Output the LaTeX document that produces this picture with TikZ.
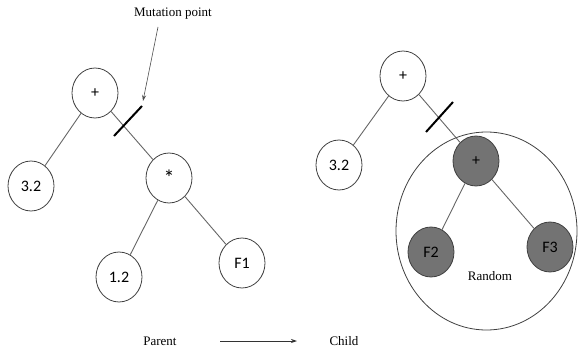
\documentclass[tikz,border=0pt]{standalone}
\usepackage{fontspec}
\setmainfont{Liberation Serif}
\newfontfamily\nodefont{Carlito}
\usetikzlibrary{shapes.geometric,arrows.meta}
\begin{document}
\begin{tikzpicture}[x=1pt,y=-1pt,
  tnode/.style={ellipse,draw=black!75,line width=0.8pt,inner sep=0pt,minimum width=46pt,minimum height=50pt,font=\nodefont\fontsize{16}{18}\selectfont},
  gnode/.style={tnode,fill=black!55},
  link/.style={draw=black!60,line width=0.9pt},
  cut/.style={draw=black,line width=2pt},
  lbl/.style={font=\fontsize{13}{15}\selectfont,inner sep=0pt}]
\useasboundingbox (0,0) rectangle (578,348);
% left tree
\node[tnode] (lp) at (95,93) {+};
\node[tnode] (l32) at (31,186) {3.2};
\node[tnode] (lm) at (169,178) {\fontsize{22}{22}\selectfont\raisebox{-2pt}{*}};
\node[tnode] (l12) at (119,277) {1.2};
\node[tnode] (lf1) at (242,263) {F1};
\draw[link] (lp) -- (l32);
\draw[link] (lp) -- (lm);
\draw[link] (lm) -- (l12);
\draw[link] (lm) -- (lf1);
\coordinate (ls1) at (114,136);
\coordinate (ls2) at (142,106);
\draw[cut] (ls1) -- (ls2);
\node[lbl] (mp) at (173,14) {Mutation point};
\coordinate (mptip) at (143,101);
\draw[draw=black!70,line width=0.6pt,-{Stealth[length=6pt,width=4pt]}] (158,27) -- (mptip);
% right tree
\node[ellipse,draw=black!75,line width=0.8pt,minimum width=181pt,minimum height=198pt,inner sep=0pt] (big) at (486.5,231) {};
\node[tnode] (rp) at (403,76) {+};
\node[tnode] (r32) at (339,165) {3.2};
\node[gnode] (rg) at (476,161) {+};
\node[gnode] (rf2) at (431,252) {F2};
\node[gnode] (rf3) at (550,247) {F3};
\draw[link] (rp) -- (r32);
\draw[link] (rp) -- (rg);
\draw[link] (rg) -- (rf2);
\draw[link] (rg) -- (rf3);
\coordinate (rs1) at (426,132);
\coordinate (rs2) at (453,102);
\draw[cut] (rs1) -- (rs2);
\node[lbl] (rnd) at (490,276) {Random};
% bottom
\node[lbl] (par) at (160,341) {Parent};
\node[lbl] (chd) at (344,341) {Child};
\coordinate (a1) at (220,341);
\coordinate (a2) at (297,341);
\draw[draw=black!80,line width=0.8pt,-{Stealth[length=6pt,width=4pt]}] (a1) -- (a2);
\end{tikzpicture}
\end{document}
